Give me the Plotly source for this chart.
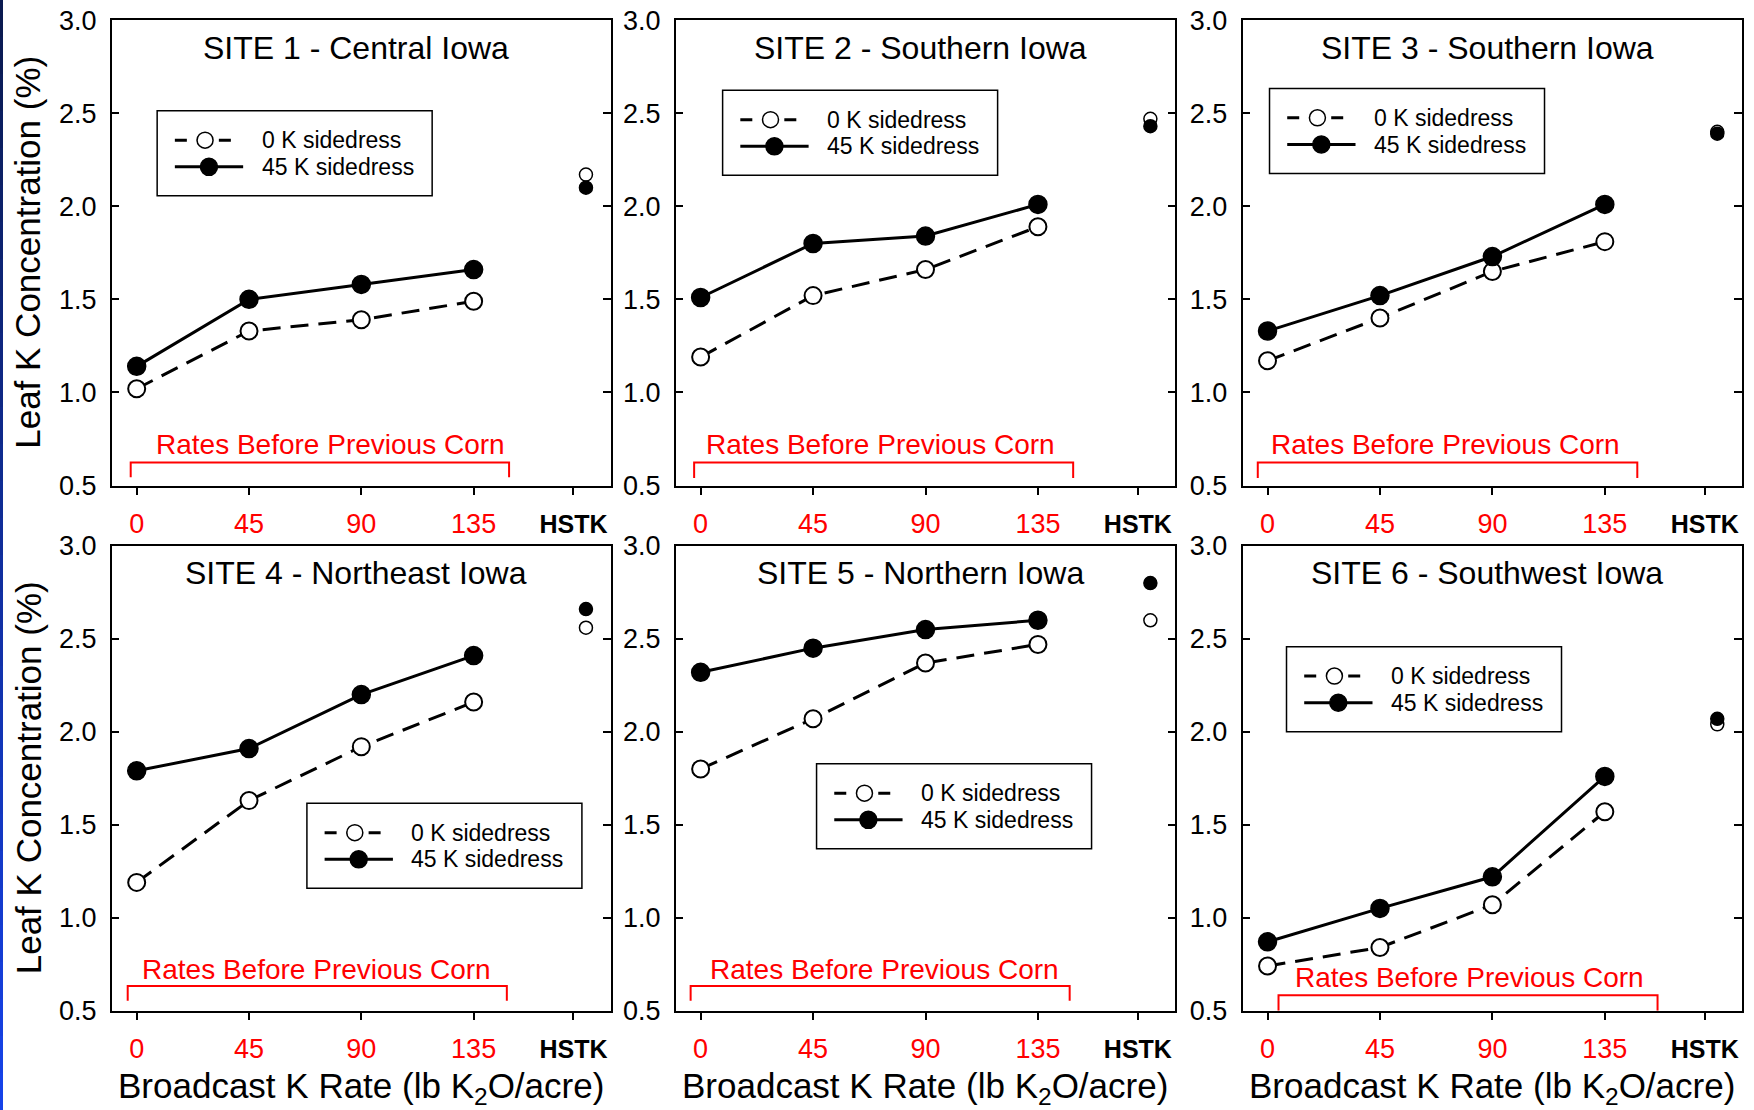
import plotly.graph_objects as go

# ---- data -------------------------------------------------------------
rates = [0, 45, 90, 135]                 # broadcast K rate, lb K2O/acre
rate_labels = ["0", "45", "90", "135"]
hstk_label = "HSTK"
series_names = ["0 K sidedress", "45 K sidedress"]

site_names = [
    "SITE 1 - Central Iowa",
    "SITE 2 - Southern Iowa",
    "SITE 3 - Southern Iowa",
    "SITE 4 - Northeast Iowa",
    "SITE 5 - Northern Iowa",
    "SITE 6 - Southwest Iowa",
]

# leaf K concentration (%) at each broadcast rate
site1_0k = [1.02, 1.33, 1.39, 1.49]
site1_45k = [1.14, 1.50, 1.58, 1.66]
site2_0k = [1.19, 1.52, 1.66, 1.89]
site2_45k = [1.51, 1.80, 1.84, 2.01]
site3_0k = [1.17, 1.40, 1.65, 1.81]
site3_45k = [1.33, 1.52, 1.73, 2.01]
site4_0k = [1.19, 1.63, 1.92, 2.16]
site4_45k = [1.79, 1.91, 2.20, 2.41]
site5_0k = [1.80, 2.07, 2.37, 2.47]
site5_45k = [2.32, 2.45, 2.55, 2.60]
site6_0k = [0.74, 0.84, 1.07, 1.57]
site6_45k = [0.87, 1.05, 1.22, 1.76]

# high soil-test K check plots, sites 1-6
hstk_0k = [2.17, 2.47, 2.40, 2.56, 2.60, 2.04]
hstk_45k = [2.10, 2.43, 2.39, 2.66, 2.80, 2.07]

zero_k = [site1_0k, site2_0k, site3_0k, site4_0k, site5_0k, site6_0k]
side_k = [site1_45k, site2_45k, site3_45k, site4_45k, site5_45k, site6_45k]

# ---- layout settings ---------------------------------------------------
FONT = "Liberation Sans, Arial, Helvetica, sans-serif"
RED = "#ff0000"
W, H = 1754, 1110

hstk_tick = 175      # where the HSTK label sits on the x axis
hstk_pos = 180       # where the HSTK points are plotted
x_range = [-10, 190]
y_range = [0.5, 3.0]

col_domains = [[0.0637, 0.3483], [0.3852, 0.6701], [0.7084, 0.9933]]
row_domains = [[0.5626, 0.9819], [0.0895, 0.5082]]

# legend box top-left corner in each panel (axis-domain fractions)
legend_anchor = [(0.091, 0.805), (0.094, 0.849), (0.054, 0.853),
                 (0.391, 0.446), (0.282, 0.531), (0.088, 0.783)]

# "Rates Before Previous Corn" bracket: x0, x1, top, foot, label x, label y
bracket_spec = [
    (-2.4, 149.2, 0.624, 0.544, 77.7, 0.720),
    (-2.6, 149.1, 0.624, 0.540, 72.0, 0.720),
    (-3.9, 148.0, 0.624, 0.540, 71.1, 0.720),
    (-3.6, 148.3, 0.633, 0.553, 72.2, 0.724),
    (-4.0, 147.7, 0.633, 0.553, 73.5, 0.724),
    (4.4, 156.1, 0.583, 0.500, 80.8, 0.678),
]

DATA_DASH = "18px,10px"
KEY_DASH = "12px,10px"

tick_text = [f'<span style="color:{RED}">{t}</span>' for t in rate_labels]
tick_text.append(f'<b><span style="font-size:25px">{hstk_label}</span></b>')
tick_positions = rates + [hstk_tick]

fig = go.Figure()
shapes = []
annotations = []

for i in range(6):
    n = i + 1
    sfx = "" if n == 1 else str(n)
    xa, ya = "x" + sfx, "y" + sfx

    # 0 K sidedress: dashed line, open circles
    fig.add_trace(go.Scatter(
        x=rates, y=zero_k[i], xaxis=xa, yaxis=ya, mode="lines+markers",
        name=series_names[0], showlegend=False,
        line=dict(color="black", width=3, dash=DATA_DASH),
        marker=dict(symbol="circle", size=17, color="white",
                    line=dict(color="black", width=2)),
    ))
    # 45 K sidedress: solid line, filled circles
    fig.add_trace(go.Scatter(
        x=rates, y=side_k[i], xaxis=xa, yaxis=ya, mode="lines+markers",
        name=series_names[1], showlegend=False,
        line=dict(color="black", width=3),
        marker=dict(symbol="circle", size=18, color="black",
                    line=dict(color="black", width=1.5)),
    ))
    # HSTK check points
    fig.add_trace(go.Scatter(
        x=[hstk_pos], y=[hstk_0k[i]], xaxis=xa, yaxis=ya, mode="markers",
        name=series_names[0] + " (HSTK)", showlegend=False,
        marker=dict(symbol="circle", size=13, color="white",
                    line=dict(color="black", width=1.5)),
    ))
    fig.add_trace(go.Scatter(
        x=[hstk_pos], y=[hstk_45k[i]], xaxis=xa, yaxis=ya, mode="markers",
        name=series_names[1] + " (HSTK)", showlegend=False,
        marker=dict(symbol="circle", size=13, color="black",
                    line=dict(color="black", width=1.5)),
    ))

    r, c = divmod(i, 3)
    fig.layout["xaxis" + sfx] = dict(
        domain=col_domains[c], anchor=ya, range=x_range, automargin=False,
        tickmode="array", tickvals=tick_positions, ticktext=tick_text,
        ticks="outside", ticklen=8, tickwidth=1.5, tickcolor="black",
        showline=True, linecolor="black", linewidth=1.5, mirror=True,
        showgrid=False, zeroline=False, ticklabelstandoff=5,
        tickfont=dict(family=FONT, size=27, color="black"),
    )
    fig.layout["yaxis" + sfx] = dict(
        domain=row_domains[r], anchor=xa, range=y_range, automargin=False,
        tickmode="linear", tick0=0.5, dtick=0.5, tickformat=".1f",
        ticks="inside", ticklen=8, tickwidth=1.5, tickcolor="black",
        showline=True, linecolor="black", linewidth=1.5, mirror="ticks",
        showgrid=False, zeroline=False, ticklabelstandoff=8,
        tickfont=dict(family=FONT, size=27, color="black"),
    )

    xd, yd = xa + " domain", ya + " domain"

    # panel title
    annotations.append(dict(
        text=site_names[i], xref=xd, yref=yd, x=0.49, y=0.941,
        xanchor="center", yanchor="middle", showarrow=False,
        font=dict(family=FONT, size=32, color="black"),
    ))

    # bracket over the broadcast rates
    bx0, bx1, btop, bfoot, lx, ly = bracket_spec[i]
    shapes.append(dict(
        type="path", xref=xa, yref=ya,
        path=f"M{bx0},{bfoot} L{bx0},{btop} L{bx1},{btop} L{bx1},{bfoot}",
        line=dict(color=RED, width=2),
    ))
    annotations.append(dict(
        text="Rates Before Previous Corn", xref=xa, yref=ya, x=lx, y=ly,
        xanchor="center", yanchor="middle", showarrow=False,
        font=dict(family=FONT, size=28, color=RED),
    ))

    # legend key box
    ax, ay = legend_anchor[i]
    px = dict(xref=xd, yref=yd, xsizemode="pixel", ysizemode="pixel",
              xanchor=ax, yanchor=ay)
    shapes.append(dict(type="rect", x0=0, x1=275, y0=0, y1=-85,
                       line=dict(color="black", width=1.5), fillcolor="white", **px))
    shapes.append(dict(type="line", x0=17.7, x1=77, y0=-29.3, y1=-29.3,
                       line=dict(color="black", width=3, dash=KEY_DASH), **px))
    shapes.append(dict(type="circle", x0=39.9, x1=55.9, y0=-21.3, y1=-37.3,
                       line=dict(color="black", width=1.5), fillcolor="white", **px))
    shapes.append(dict(type="line", x0=17.7, x1=86, y0=-56, y1=-56,
                       line=dict(color="black", width=3), **px))
    shapes.append(dict(type="circle", x0=43.3, x1=60.3, y0=-47.5, y1=-64.5,
                       line=dict(color="black", width=1.5), fillcolor="black", **px))
    for k, yoff in enumerate([-29.3, -56]):
        annotations.append(dict(
            text=series_names[k], xref=xd, yref=yd, x=ax, y=ay,
            xshift=102.5, yshift=yoff, xanchor="left", yanchor="middle",
            showarrow=False, font=dict(family=FONT, size=23, color="black"),
        ))

# axis titles
for r in range(2):
    ya = "y" if r == 0 else "y4"
    annotations.append(dict(
        text="Leaf K Concentration (%)", xref="paper", yref=ya + " domain",
        x=28 / W, y=0.5, xanchor="center", yanchor="middle", textangle=-90,
        showarrow=False, font=dict(family=FONT, size=35, color="black"),
    ))
for c in range(3):
    xa = ["x4", "x5", "x6"][c]
    annotations.append(dict(
        text="Broadcast K Rate (lb K<sub>2</sub>O/acre)", xref=xa + " domain",
        yref="paper", x=0.5, y=1 - 1088 / H, xanchor="center", yanchor="middle",
        showarrow=False, font=dict(family=FONT, size=35, color="black"),
    ))

# thin blue slide edge on the left, dark at the top and bright at the bottom
steps = 30
top_rgb, bot_rgb = (10, 26, 80), (22, 66, 232)
for s in range(steps):
    t = s / (steps - 1)
    col = tuple(round(a + (b - a) * t) for a, b in zip(top_rgb, bot_rgb))
    shapes.append(dict(
        type="rect", xref="paper", yref="paper", x0=0, x1=3 / W,
        y0=1 - (s + 1) / steps, y1=1 - s / steps, line=dict(width=0),
        fillcolor=f"rgb{col}", layer="above",
    ))

fig.update_layout(
    width=W, height=H,
    margin=dict(l=0, r=0, t=0, b=0, pad=0, autoexpand=False),
    paper_bgcolor="white", plot_bgcolor="white",
    font=dict(family=FONT, color="black"),
    showlegend=False, shapes=shapes, annotations=annotations,
)

fig.write_html("out.html")
